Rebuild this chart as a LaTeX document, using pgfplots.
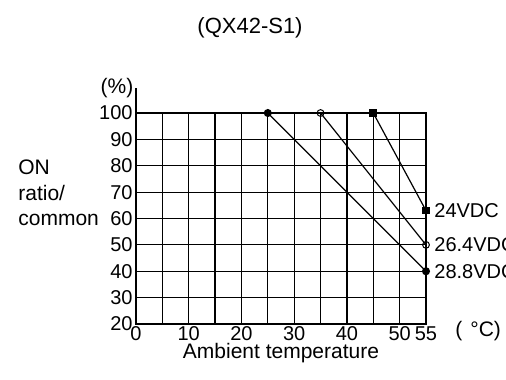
\documentclass[border=0pt]{standalone}
\usepackage{fontspec}
\setmainfont{Liberation Sans}
\usepackage{pgfplots}
\pgfplotsset{compat=1.18}
\begin{document}
\begin{tikzpicture}[font=\fontsize{10.5}{12}\selectfont]
\begin{axis}[
 scale only axis, width=145pt, height=105.5pt,
 xmin=0, xmax=55, ymin=20, ymax=100,
 xtick={0,5,10,15,20,25,30,35,40,45,50,55},
 xticklabels={0,,10,,20,,30,,40,,50,55},
 ytick={20,30,40,50,60,70,80,90,100},
 grid=major, major grid style={black, line width=0.6pt},
 axis line style={black, line width=0.6pt},
 major tick length=0pt,
 tick label style={font=\fontsize{10}{12}\selectfont},
 /pgf/number format/assume math mode=true,
 xticklabel style={inner sep=0pt, anchor=north, yshift=-1pt},
 yticklabel style={inner sep=0pt, anchor=east, xshift=-1.5pt},
 clip=false,
]
\addplot[black, line width=0.6pt, mark=*, mark size=1.7pt] coordinates {(25,100) (55,40)};
\addplot[black, line width=0.6pt, mark=o, mark size=1.7pt, mark options={fill=white, line width=0.5pt}] coordinates {(35,100) (55,50)};
\addplot[black, line width=0.6pt, mark=square*, mark size=1.6pt] coordinates {(45,100) (55,63)};
\draw[black, line width=0.6pt] (axis cs:0,100) -- (axis cs:0,109.5);
\node[anchor=west, inner sep=0pt, xshift=4pt, font=\fontsize{10}{12}\selectfont] at (axis cs:55,63) {24VDC};
\node[anchor=west, inner sep=0pt, xshift=4pt, font=\fontsize{10}{12}\selectfont] at (axis cs:55,50) {26.4VDC};
\node[anchor=west, inner sep=0pt, xshift=4pt, font=\fontsize{10}{12}\selectfont] at (axis cs:55,40) {28.8VDC};
\end{axis}
\node[font=\fontsize{11}{13}\selectfont] at (57pt,148pt) {(QX42-S1)};
\node at (-9.5pt,118pt) {(\%)};
\node[anchor=west, inner sep=0pt] at (-59pt,78.5pt) {ON};
\node[anchor=west, inner sep=0pt] at (-59pt,65.5pt) {ratio/};
\node[anchor=west, inner sep=0pt] at (-59pt,52pt) {common};
\node[anchor=west, inner sep=0pt] at (159.5pt,-3.5pt) {(\hspace{4pt}°C)};
\node[inner sep=0pt] at (72.5pt,-14.5pt) {Ambient temperature};
\pgfresetboundingbox
\useasboundingbox (-68pt,-27.5pt) rectangle (185pt,162pt);
\end{tikzpicture}
\end{document}
